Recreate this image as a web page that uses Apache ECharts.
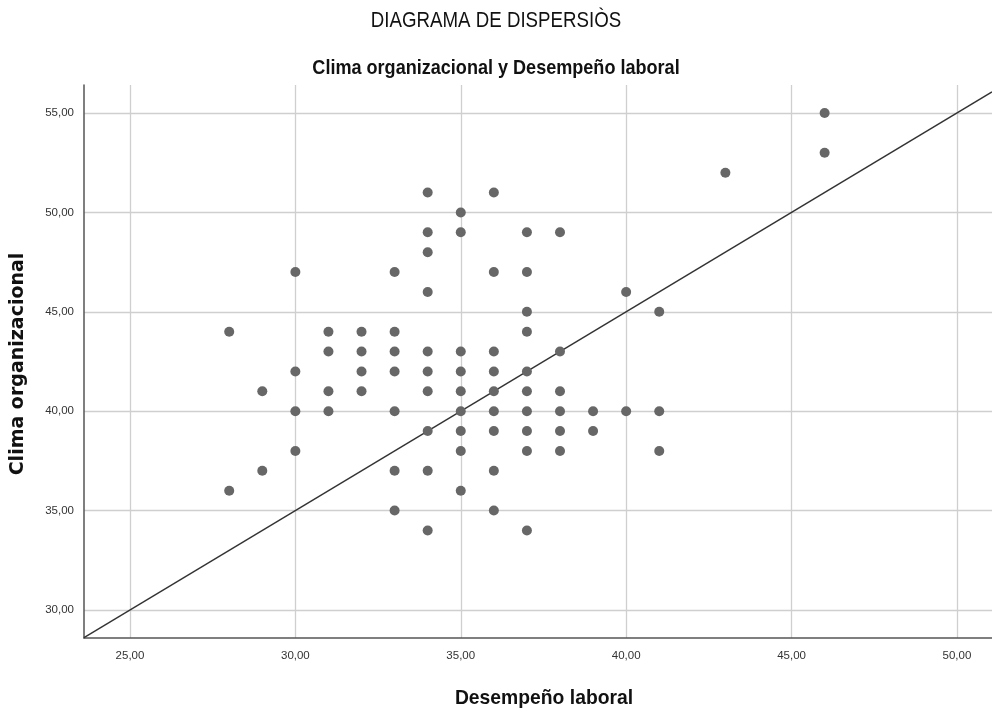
<!DOCTYPE html>
<html>
<head>
<meta charset="utf-8">
<script src="https://cdn.jsdelivr.net/npm/echarts@6/dist/echarts.min.js"></script>
<style>html,body{margin:0;padding:0;background:#fff;}#chart{width:992px;height:711px;}</style>
</head>
<body>
<div id="chart"></div>
<script>
// Desempeño laboral (x) and Clima organizacional (y)
var desempeno = [28,28, 29,29, 30,30,30,30, 31,31,31,31, 32,32,32,32,
  33,33,33,33,33,33,33, 34,34,34,34,34,34,34,34,34,34,
  35,35,35,35,35,35,35,35,35, 36,36,36,36,36,36,36,36,36,
  37,37,37,37,37,37,37,37,37,37, 38,38,38,38,38,38, 39,39, 40,40, 41,41,41, 43, 46,46];
var clima = [44,36, 41,37, 47,42,40,38, 44,43,41,40, 44,43,42,41,
  47,44,43,42,40,37,35, 51,49,48,46,43,42,41,39,37,34,
  50,49,43,42,41,40,39,38,36, 51,47,43,42,41,40,39,37,35,
  49,47,45,44,42,41,40,39,38,34, 49,43,41,40,39,38, 40,39, 46,40, 45,40,38, 52, 55,53];
var xTicks = [25,30,35,40,45,50];
var yTicks = [30,35,40,45,50,55];
var refLineX = [23.61, 51.06];
var refLineY = [28.61, 56.06];

var pts = desempeno.map(function(x,i){return [x, clima[i]];});
var fmt = function(v){return Number(v).toFixed(2).replace('.', ',');};
var sans = '"Liberation Sans",Arial,sans-serif';

var chart = echarts.init(document.getElementById('chart'));
chart.setOption({
  animation:false,
  backgroundColor:'#fff',
  graphic:[
    {type:'text', x:496, y:21, scaleX:0.85, z:10,
     style:{text:'DIAGRAMA DE DISPERSIÒS', font:'normal 22px ' + sans, fill:'#111', align:'center', verticalAlign:'middle'}},
    {type:'text', x:496, y:68, scaleX:0.86, z:10,
     style:{text:'Clima organizacional y Desempeño laboral', font:'bold 21px ' + sans, fill:'#111', align:'center', verticalAlign:'middle'}},
    {type:'text', x:544, y:698, scaleX:0.92, z:10,
     style:{text:'Desempeño laboral', font:'bold 21px ' + sans, fill:'#111', align:'center', verticalAlign:'middle'}},
    {type:'text', x:18, y:364, rotation:Math.PI/2, z:10,
     style:{text:'Clima organizacional', font:'bold 19px "DejaVu Sans",sans-serif', fill:'#111', align:'center', verticalAlign:'middle'}}
  ],
  grid:{left:84, right:0, top:85, bottom:73, containLabel:false},
  xAxis:{type:'value', min:23.61, max:51.06,
    axisLine:{show:true, onZero:false, lineStyle:{color:'#555', width:1.5}},
    axisTick:{show:false, customValues:xTicks},
    axisLabel:{customValues:xTicks, formatter:fmt, fontFamily:sans, fontSize:11.5, color:'#333', margin:12},
    splitLine:{show:true, lineStyle:{color:'#cfcfcf', width:1.3}}},
  yAxis:{type:'value', min:28.59, max:56.41,
    axisLine:{show:true, onZero:false, lineStyle:{color:'#555', width:1.5}},
    axisTick:{show:false, customValues:yTicks},
    axisLabel:{customValues:yTicks, formatter:fmt, fontFamily:sans, fontSize:11.5, color:'#333', margin:10},
    splitLine:{show:true, lineStyle:{color:'#cfcfcf', width:1.3}}},
  series:[
    {type:'line', data:[[refLineX[0],refLineY[0]],[refLineX[1],refLineY[1]]],
     symbol:'none', lineStyle:{color:'#333', width:1.4}, z:3, silent:true},
    {type:'scatter', data:pts, symbolSize:10, itemStyle:{color:'#676767', opacity:1}, z:4}
  ]
});
</script>
</body>
</html>
